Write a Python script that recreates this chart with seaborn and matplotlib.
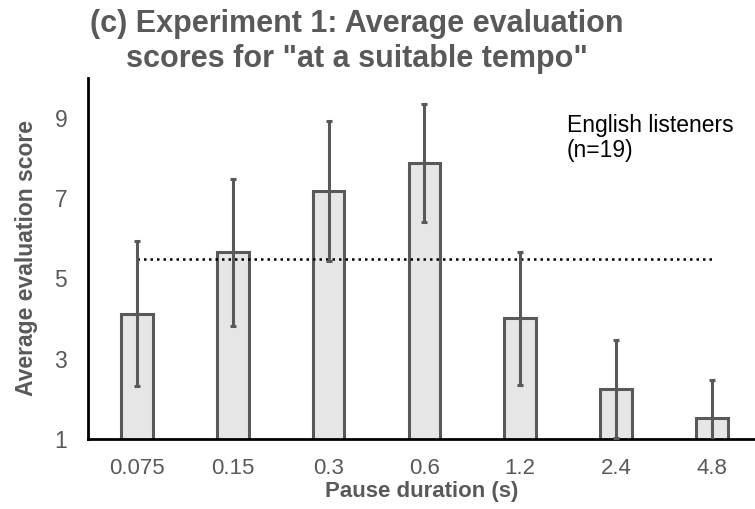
import matplotlib
matplotlib.use("Agg")
import matplotlib.pyplot as plt
import seaborn as sns
import pandas as pd

categories = ["0.075", "0.15", "0.3", "0.6", "1.2", "2.4", "4.8"]
means = [4.12, 5.65, 7.18, 7.88, 4.01, 2.25, 1.51]
errors = [1.81, 1.83, 1.74, 1.48, 1.66, 1.22, 0.95]
reference_level = 5.48
yticks = [1, 3, 5, 7, 9]

sns.set_theme(style="white")
plt.rcParams["font.family"] = ["Liberation Sans", "DejaVu Sans"]

gray = "#595959"
df = pd.DataFrame({"pause": categories, "score": means})

fig = plt.figure(figsize=(7.55, 5.09), dpi=100)
ax = fig.add_axes([0.1166, 0.138, 0.8834, 0.709])

sns.barplot(data=df, x="pause", y="score", order=categories, width=0.33,
            color="#e6e6e6", edgecolor=gray, linewidth=2.2, saturation=1,
            errorbar=None, ax=ax)
xs = list(range(len(categories)))
ax.errorbar(xs, means, yerr=errors, fmt="none", ecolor=gray, elinewidth=2.2,
            capsize=2.5, capthick=2.2, zorder=5)
ax.plot([xs[0], xs[-1]], [reference_level, reference_level], linestyle=(0, (1, 1.6)),
        color="black", linewidth=1.8, zorder=4)

ax.set_ylim(1, 10)
ax.set_xlim(-0.51, 6.45)
ax.set_yticks(yticks)
ax.set_yticklabels([str(t) for t in yticks], fontsize=16.5, color=gray)
ax.set_xticks(xs)
ax.set_xticklabels(categories, fontsize=16, color=gray)
ax.tick_params(axis="both", direction="in", length=6, width=2, color="black")
ax.tick_params(axis="y", pad=15)
ax.tick_params(axis="x", pad=14)
for s in ["top", "right"]:
    ax.spines[s].set_visible(False)
for s in ["left", "bottom"]:
    ax.spines[s].set_color("black")
    ax.spines[s].set_linewidth(2)

ax.set_xlabel("Pause duration (s)", fontsize=16, fontweight="bold", color=gray, labelpad=1)
ax.set_ylabel("Average evaluation score", fontsize=16.5, fontweight="bold", color=gray, labelpad=12)

fig.text(0.473, 0.919, '(c) Experiment 1: Average evaluation\nscores for "at a suitable tempo"',
         ha="center", va="center", fontsize=22, fontweight="bold", color=gray, linespacing=1.2)
fig.text(0.751, 0.729, "English listeners\n(n=19)",
         fontsize=16.5, color="black", va="center", ha="left", linespacing=1.15)

fig.savefig("out.png", dpi=100)
